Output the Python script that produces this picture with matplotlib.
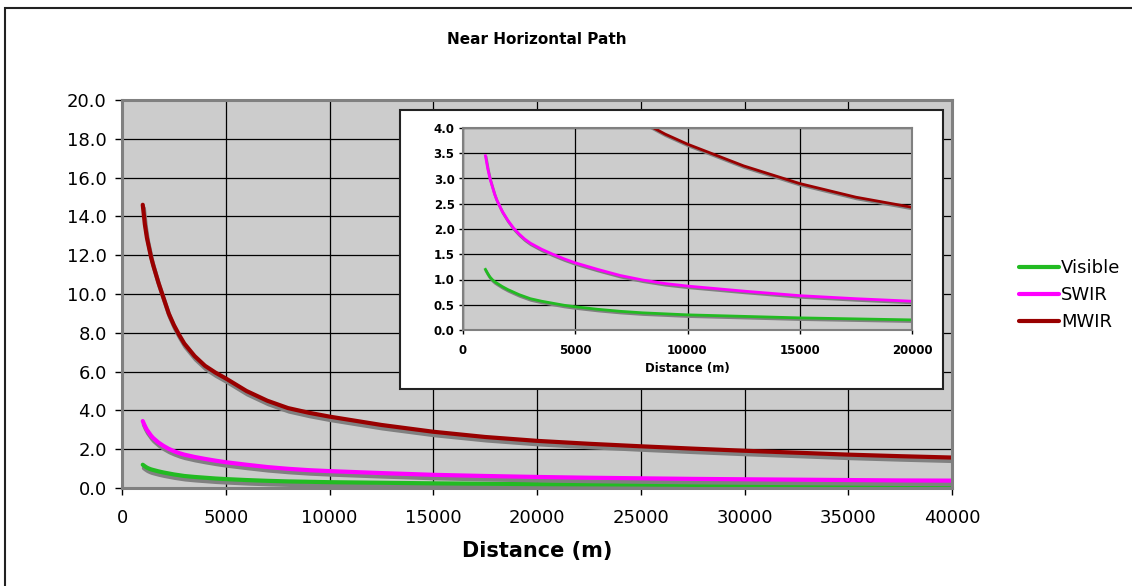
import matplotlib
matplotlib.use("Agg")
import matplotlib.pyplot as plt
import matplotlib.patheffects as pe
from matplotlib.patches import Rectangle

distance = [1000, 1100, 1200, 1300, 1400, 1500, 1750, 2000, 2250, 2500, 2750, 3000,
            3500, 4000, 4500, 5000, 6000, 7000, 8000, 9000, 10000, 12500, 15000,
            17500, 20000, 22500, 25000, 27500, 30000, 32500, 35000, 37500, 40000]
visible = [1.20, 1.12, 1.05, 1.00, 0.96, 0.93, 0.86, 0.80, 0.75, 0.70, 0.66, 0.62,
           0.57, 0.53, 0.49, 0.46, 0.41, 0.37, 0.34, 0.32, 0.30, 0.27, 0.24,
           0.22, 0.20, 0.19, 0.18, 0.16, 0.15, 0.14, 0.13, 0.125, 0.12]
swir = [3.45, 3.20, 3.00, 2.85, 2.70, 2.58, 2.35, 2.17, 2.02, 1.90, 1.80, 1.72,
        1.60, 1.50, 1.41, 1.33, 1.20, 1.08, 0.99, 0.92, 0.87, 0.77, 0.68,
        0.62, 0.57, 0.53, 0.50, 0.47, 0.45, 0.43, 0.41, 0.39, 0.38]
mwir = [14.6, 13.6, 12.9, 12.4, 11.9, 11.5, 10.6, 9.8, 9.0, 8.4, 7.9, 7.45,
        6.8, 6.3, 5.95, 5.65, 5.0, 4.5, 4.12, 3.88, 3.68, 3.25, 2.9,
        2.63, 2.43, 2.28, 2.15, 2.03, 1.92, 1.82, 1.72, 1.64, 1.57]
series_names = ["Visible", "SWIR", "MWIR"]
series_colors = ["#22BB22", "#FF00FF", "#990000"]

W, H = 1132, 586
fig = plt.figure(figsize=(W / 100, H / 100), dpi=100)
plt.rcParams['font.family'] = ['DejaVu Sans']

def fx(px):
    return px / W

def fy(py):
    return 1 - py / H

# figure border (top & left visible)
fig.add_artist(Rectangle((fx(4.5), fy(600)), fx(1200), fy(7.5) - fy(600),
                         transform=fig.transFigure, fill=False, edgecolor="#222222", lw=1.5))

fig.text(fx(537), fy(40), "Near Horizontal Path", ha="center", va="center",
         fontsize=11, fontweight="bold")

ax = fig.add_axes([fx(122), fy(488), fx(952) - fx(122), fy(100) - fy(488)])
ax.set_facecolor("#CCCCCC")
ax.set_xlim(0, 40000)
ax.set_ylim(0, 20)
ax.set_xticks(range(0, 40001, 5000))
ax.set_yticks([i * 2 for i in range(11)])
ax.set_yticklabels([f"{i * 2:.1f}" for i in range(11)])
ax.grid(True, color="black", lw=0.9)
ax.set_axisbelow(True)
for s in ax.spines.values():
    s.set_color("#808080")
    s.set_linewidth(2.2)
ax.tick_params(direction="out", length=5, width=1, color="black", labelsize=13, pad=6)
ax.tick_params(axis="x", pad=10)
ax.set_xlabel("Distance (m)", fontsize=15, fontweight="bold", labelpad=10)

shadow_main = [pe.SimpleLineShadow(offset=(0.8, -2.5), shadow_color="#808080", alpha=1.0), pe.Normal()]
for vals, name, col in zip([visible, swir, mwir], series_names, series_colors):
    ax.plot(distance, vals, color=col, lw=3, label=name, path_effects=shadow_main,
            solid_capstyle="round", solid_joinstyle="round")

leg = ax.legend(loc="center left", bbox_to_anchor=(fx(1003), fy(295)),
                bbox_transform=fig.transFigure, frameon=False, fontsize=13,
                handlelength=2.2, handletextpad=0.1, labelspacing=0.5)
for h in leg.get_lines():
    h.set_path_effects([])
    h.set_linewidth(3)

# inset chart
fig.add_artist(Rectangle((fx(400), fy(389)), fx(943) - fx(400), fy(110) - fy(389),
                         transform=fig.transFigure, facecolor="white", edgecolor="#222222",
                         lw=1.5, zorder=3))
ax2 = fig.add_axes([fx(463), fy(330), fx(912) - fx(463), fy(128) - fy(330)], zorder=4)
ax2.set_facecolor("#CCCCCC")
ax2.set_xlim(0, 20000)
ax2.set_ylim(0, 4)
ax2.set_xticks(range(0, 20001, 5000))
ax2.set_yticks([i * 0.5 for i in range(9)])
ax2.set_yticklabels([f"{i * 0.5:.1f}" for i in range(9)])
ax2.grid(True, color="black", lw=0.9)
ax2.set_axisbelow(True)
for s in ax2.spines.values():
    s.set_color("#808080")
    s.set_linewidth(1.5)
ax2.tick_params(direction="out", length=3, width=1, color="black", labelsize=8.5, pad=3)
for lab in ax2.get_xticklabels() + ax2.get_yticklabels():
    lab.set_fontweight("bold")
ax2.tick_params(axis="x", pad=7)
ax2.set_xlabel("Distance (m)", fontsize=8.5, fontweight="bold", labelpad=3.5)

shadow_in = [pe.SimpleLineShadow(offset=(0.5, -1.2), shadow_color="#808080", alpha=1.0), pe.Normal()]
for vals, col in zip([visible, swir, mwir], series_colors):
    ax2.plot(distance, vals, color=col, lw=2, path_effects=shadow_in,
             solid_joinstyle="round")

fig.savefig("out.png", dpi=100)
